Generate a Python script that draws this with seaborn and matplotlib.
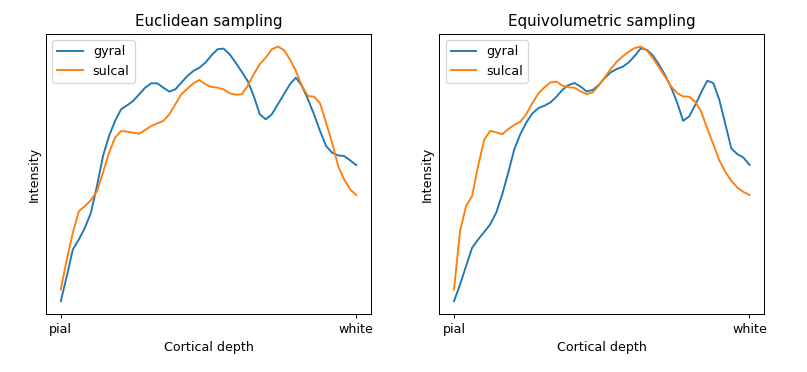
import numpy as np
import pandas as pd
import seaborn as sns
from matplotlib import pyplot as plt

# intensity profiles (arbitrary units, 50 depth samples)
euclid_gyral = [85, 160, 240, 270, 305, 350, 430, 520, 580, 625, 660, 672, 685, 705, 725, 738,
                738, 725, 713, 720, 740, 760, 775, 785, 800, 822, 840, 842, 825, 800, 773, 745,
                700, 645, 630, 645, 675, 705, 735, 755, 730, 690, 645, 595, 550, 530, 522, 520,
                507, 493]
euclid_sulcal = [120, 210, 290, 355, 370, 388, 415, 470, 530, 575, 595, 593, 590, 587, 598, 610,
                 618, 625, 645, 675, 705, 722, 738, 748, 735, 727, 725, 720, 708, 704, 705, 730,
                 765, 795, 815, 840, 848, 838, 810, 775, 730, 700, 698, 678, 620, 560, 490, 450,
                 420, 403]
equivol_gyral = [85, 135, 190, 245, 270, 292, 315, 350, 405, 470, 540, 585, 620, 647, 663, 670,
                 680, 697, 718, 732, 738, 727, 713, 717, 732, 753, 770, 780, 787, 800, 820, 842,
                 837, 820, 793, 762, 725, 680, 625, 638, 672, 710, 745, 738, 688, 615, 542, 525,
                 515, 493]
equivol_sulcal = [120, 295, 370, 400, 490, 568, 595, 590, 585, 600, 613, 622, 645, 678, 707, 725,
                  740, 742, 730, 725, 724, 713, 705, 710, 730, 755, 780, 802, 818, 832, 843, 847,
                  835, 812, 785, 757, 728, 708, 698, 697, 682, 652, 602, 555, 507, 472, 445, 425,
                  412, 403]
depth = np.arange(len(euclid_gyral))
tick_labels = ["pial", "white"]

panels = [("Euclidean sampling", euclid_gyral, euclid_sulcal),
          ("Equivolumetric sampling", equivol_gyral, equivol_sulcal)]

# the reference looks like a default figure rendered at a slightly lower dpi
dpi = 91
fig, axes = plt.subplots(1, 2, figsize=(807 / dpi, 372 / dpi), dpi=dpi)
fig.subplots_adjust(left=0.057, right=0.947, bottom=0.156, top=0.909, wspace=0.21)

for ax, (title, gyral, sulcal) in zip(axes, panels):
    df = pd.DataFrame({"depth": depth, "gyral": gyral, "sulcal": sulcal})
    sns.lineplot(data=df, x="depth", y="gyral", label="gyral", ax=ax)
    sns.lineplot(data=df, x="depth", y="sulcal", label="sulcal", ax=ax)
    ax.set_title(title)
    ax.set_xlabel("Cortical depth")
    ax.set_ylabel("Intensity")
    ax.set_xticks([depth[0], depth[-1]])
    ax.set_xticklabels(tick_labels)
    ax.set_yticks([])
    ax.legend(loc="upper left")

plt.savefig("out.png", dpi=dpi)
